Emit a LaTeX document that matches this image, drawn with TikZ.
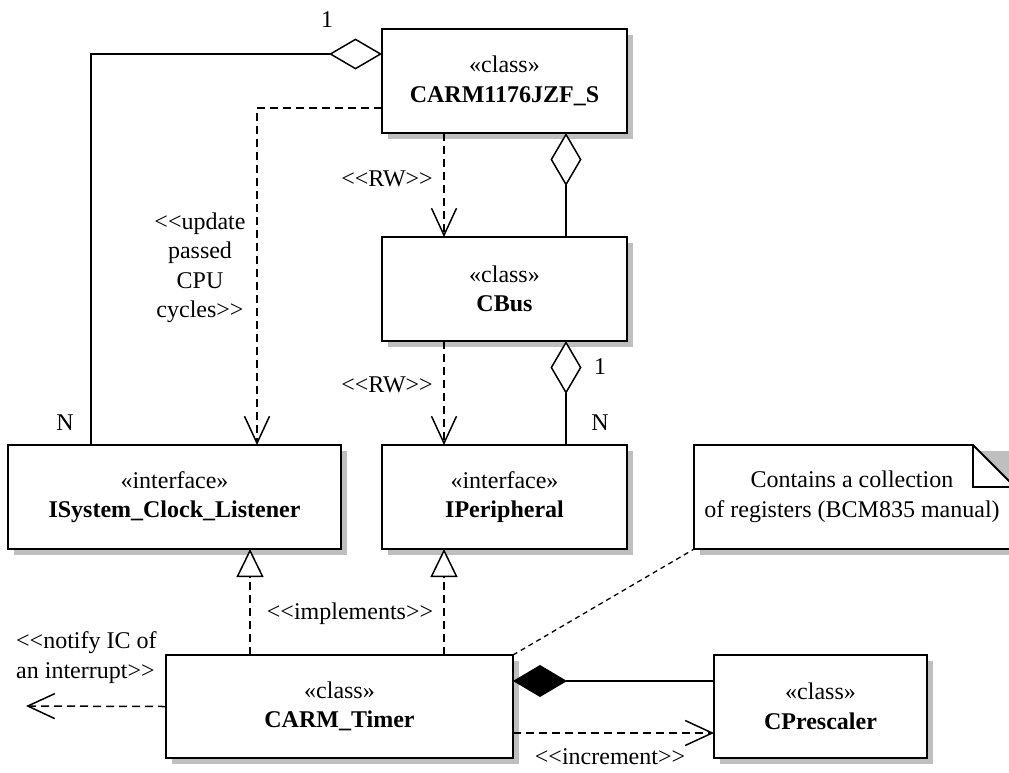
\documentclass[tikz,border=0pt]{standalone}
\usepackage{fontspec}
\setmainfont{Liberation Serif}
\usetikzlibrary{arrows.meta,shadows}
\newcommand{\oLt}{<{}<}
\newcommand{\cGt}{>{}>}
\begin{document}
\begin{tikzpicture}[x=1pt,y=-1pt,
  font=\fontsize{24}{29.5}\selectfont,
  cls/.style={draw, line width=1.8pt, fill=white, rectangle, inner sep=0pt, outer sep=0pt, align=center,
    drop shadow={shadow xshift=6pt,shadow yshift=-6pt,fill=black!25,opacity=1}},
  lbl/.style={inner sep=0pt, align=center},
  conn/.style={line width=1.5pt},
  dep/.style={conn, dash pattern=on 8pt off 5pt, -{Straight Barb[length=27pt,width=25pt,line width=1.5pt]}},
  real/.style={conn, dash pattern=on 8pt off 5pt, -{Triangle[length=28pt,width=27pt,fill=white,line width=1.5pt]}},
  agg/.style={conn, {Diamond[length=53pt,width=31pt,fill=white,line width=1.5pt]}-},
  comp/.style={conn, {Diamond[length=54pt,width=32pt]}-},
  noteline/.style={line width=1.3pt, dash pattern=on 5pt off 4pt}
]
\useasboundingbox (0,0) rectangle (1009,772);

% class boxes
\node[cls, minimum width=245pt, minimum height=104pt] (A) at (504.5,81) {«class»\\\textbf{CARM1176JZF\_S}};
\node[cls, minimum width=245pt, minimum height=104pt] (CBus) at (504.5,289) {«class»\\\textbf{CBus}};
\node[cls, minimum width=333pt, minimum height=104pt] (ISys) at (174.5,497) {«interface»\\\textbf{ISystem\_Clock\_Listener}};
\node[cls, minimum width=245pt, minimum height=104pt] (IPer) at (504.5,497) {«interface»\\\textbf{IPeripheral}};
\node[cls, minimum width=347pt, minimum height=103pt] (Timer) at (339.5,706.5) {«class»\\\textbf{CARM\_Timer}};
\node[cls, minimum width=213pt, minimum height=103pt] (Presc) at (820.5,706.5) {«class»\\\textbf{CPrescaler}};

% note shape
\fill[black!25] (700,451) rectangle (1021,555);
\draw[line width=1.8pt, fill=white] (694,445) -- (973,445) -- (1015,487) -- (1015,549) -- (694,549) -- cycle;
\draw[line width=1.8pt] (973,445) -- (973,487) -- (1015,487);
\node[lbl, minimum width=316pt, minimum height=104pt] (note) at (852,497) {Contains a collection\\of registers (BCM835 manual)};

% connectors
\draw[agg] ([yshift=-25pt]A.north west) -| ([xshift=83pt]ISys.north west);
\draw[dep] ([yshift=-79pt]A.north west) -| ([xshift=249pt]ISys.north west);
\draw[dep] ([xshift=62pt]A.south west) -- ([xshift=62pt]CBus.north west);
\draw[agg] ([xshift=184pt]A.south west) -- ([xshift=184pt]CBus.north west);
\draw[dep] ([xshift=62pt]CBus.south west) -- ([xshift=62pt]IPer.north west);
\draw[agg] ([xshift=184pt]CBus.south west) -- ([xshift=184pt]IPer.north west);
\draw[real] ([xshift=84pt]Timer.north west) -- ([xshift=242pt]ISys.south west);
\draw[real] ([xshift=278pt]Timer.north west) -- ([xshift=62pt]IPer.south west);
\draw[noteline] (Timer.north east) -- (note.south west);
\draw[comp] ([yshift=-26pt]Timer.north east) -- ([yshift=-26pt]Presc.north west);
\draw[dep] ([yshift=-78pt]Timer.north east) -- ([yshift=-78pt]Presc.north west);
\coordinate (notifyend) at (26,706);
\draw[dep] (Timer.west) -- (notifyend);

% labels
\node[lbl] (m1) at (327,20) {1};
\node[lbl] (mN) at (65,423) {N};
\node[lbl] (lupd) at (200,268) {\oLt update\\passed\\CPU\\cycles\cGt};
\node[lbl] (lrw1) at (387,179) {\oLt RW\cGt};
\node[lbl] (lrw2) at (387,385) {\oLt RW\cGt};
\node[lbl] (m2) at (600,367) {1};
\node[lbl] (mN2) at (600,423) {N};
\node[lbl] (limp) at (350,614) {\oLt implements\cGt};
\node[lbl] (linc) at (610,757) {\oLt increment\cGt};
\node[lbl, anchor=west, align=left] (lnot) at (16,657.5) {\oLt notify IC of\\an interrupt\cGt};
\end{tikzpicture}
\end{document}
